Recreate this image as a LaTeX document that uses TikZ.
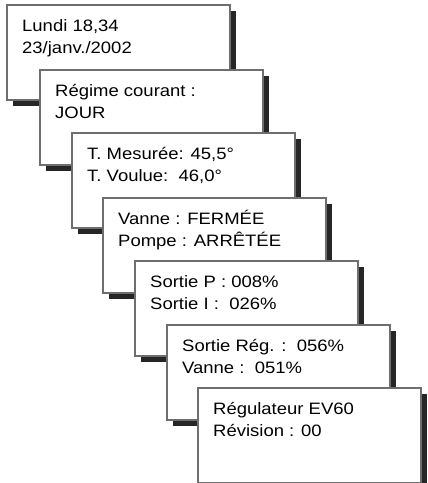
\documentclass[tikz,border=0pt]{standalone}
\usepackage{fontspec}
\setmainfont[FakeStretch=1.12]{Liberation Sans}
\usetikzlibrary{shadows}
\definecolor{boxgray}{HTML}{6E6E6E}
\definecolor{shadowgray}{HTML}{262626}
\begin{document}
\begin{tikzpicture}[x=1pt,y=-1pt,
  screen/.style={draw=boxgray, line width=1.3pt, fill=white,
    minimum width=223pt, minimum height=95pt, anchor=north west,
    inner sep=0pt, outer sep=0pt,
    drop shadow={shadow xshift=5.5pt, shadow yshift=-5.5pt, fill=shadowgray, opacity=1}},
  lines/.style={anchor=north west, inner sep=0pt, align=left,
    font=\fontsize{16.5}{22}\selectfont}]
\useasboundingbox (0,0) rectangle (428,483);
\node[screen] (b1) at (7,5) {};
\node[lines] (t1) at ([shift={(15pt,-9pt)}]b1.north west) {\rule{0pt}{17pt}Lundi 18,34\\23/janv./2002};
\node[screen] (b2) at (40,70) {};
\node[lines] (t2) at ([shift={(15pt,-9pt)}]b2.north west) {\rule{0pt}{17pt}Régime courant :\\JOUR};
\node[screen] (b3) at (72,133) {};
\node[lines] (t3) at ([shift={(15pt,-9pt)}]b3.north west) {\rule{0pt}{17pt}T. Mesurée: 45,5°\\T. Voulue:\ \ 46,0°};
\node[screen] (b4) at (103,198) {};
\node[lines] (t4) at ([shift={(15pt,-9pt)}]b4.north west) {\rule{0pt}{17pt}Vanne : FERMÉE\\Pompe : ARRÊTÉE};
\node[screen] (b5) at (135,261) {};
\node[lines] (t5) at ([shift={(15pt,-9pt)}]b5.north west) {\rule{0pt}{17pt}Sortie P : 008\%\\Sortie I :\ \ 026\%};
\node[screen] (b6) at (167,325) {};
\node[lines] (t6) at ([shift={(15pt,-9pt)}]b6.north west) {\rule{0pt}{17pt}Sortie Rég. :\ \ 056\%\\Vanne :\ \ 051\%};
\node[screen] (b7) at (198,388) {};
\node[lines] (t7) at ([shift={(15pt,-9pt)}]b7.north west) {\rule{0pt}{17pt}Régulateur EV60\\Révision : 00};
\end{tikzpicture}
\end{document}
